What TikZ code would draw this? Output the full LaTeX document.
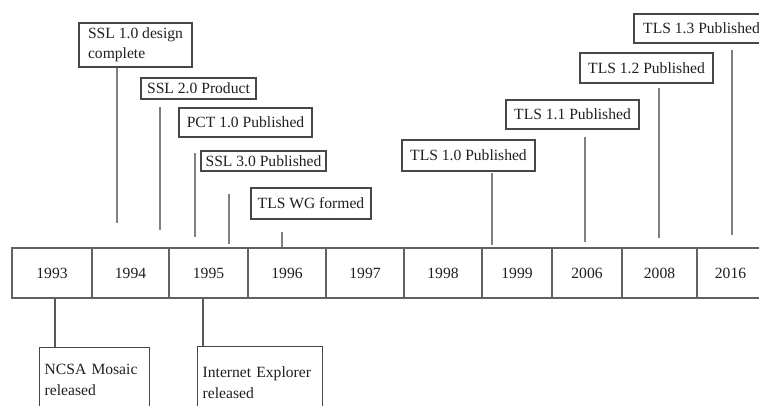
\documentclass[tikz,border=0pt]{standalone}
\usepackage{fontspec}
\setmainfont{Liberation Serif}
\begin{document}
\begin{tikzpicture}[x=0.75pt,y=-0.75pt,
  every node/.style={font=\fontsize{11.7}{15}\selectfont, text=black!88},
  evt/.style={draw=black!72, line width=1.5*0.75pt, inner sep=0pt, align=center},
  yr/.style={draw=black!62, line width=1.4*0.75pt, inner sep=0pt, minimum height=50*0.75pt},
  note/.style={draw=black!72, line width=1.4*0.75pt, anchor=north west, align=left,
    inner xsep=5*0.75pt, font=\fontsize{11.7}{16}\selectfont},
  tick/.style={draw=black!50, line width=1.6*0.75pt},
  downtick/.style={draw=black!65, line width=1.4*0.75pt}]
\useasboundingbox (0,0) rectangle (759,405);

% year row
\foreach \yy/\l/\r in {1993/12/92, 1994/92/169, 1995/169/248, 1996/248/326,
    1997/326/404, 1998/404/482, 1999/482/552, 2006/552/622, 2008/622/697, 2016/697/764}
  \node[yr, minimum width={(\r-\l)*0.75pt}] (y\yy) at ({(\l+\r)/2},273) {\yy};

% events above the row
\node[evt, align=left, minimum width=113*0.75pt, minimum height=44*0.75pt] (ssl1) at (135.5,45)
  {SSL 1.0 design\\complete};
\node[evt, minimum width=115*0.75pt, minimum height=21*0.75pt] (ssl2) at (198.5,88.5) {SSL 2.0 Product};
\node[evt, minimum width=133*0.75pt, minimum height=29*0.75pt] (pct) at (245.5,122.5) {PCT 1.0 Published};
\node[evt, minimum width=125*0.75pt, minimum height=20*0.75pt] (ssl3) at (263.5,161) {SSL 3.0 Published};
\node[evt, minimum width=120*0.75pt, minimum height=31*0.75pt] (tlswg) at (311,203.5) {TLS WG formed};
\node[evt, minimum width=133*0.75pt, minimum height=31*0.75pt] (tls10) at (468.5,155.5) {TLS 1.0 Published};
\node[evt, minimum width=133*0.75pt, minimum height=29*0.75pt] (tls11) at (572.5,114.5) {TLS 1.1 Published};
\node[evt, minimum width=133*0.75pt, minimum height=30*0.75pt] (tls12) at (646.5,68) {TLS 1.2 Published};
\node[evt, minimum width=135*0.75pt, minimum height=29*0.75pt] (tls13) at (701.5,28.5) {TLS 1.3 Published};

% event markers
\coordinate (m1) at (117,223);
\draw[tick] (ssl1.south -| m1) -- (m1);
\coordinate (m2a) at (160,107); \coordinate (m2b) at (160,230);
\draw[tick] (m2a) -- (m2b);
\coordinate (m3a) at (195,153); \coordinate (m3b) at (195,237);
\draw[tick] (m3a) -- (m3b);
\coordinate (m4a) at (229,194); \coordinate (m4b) at (229,244);
\draw[tick] (m4a) -- (m4b);
\coordinate (m5) at (282,232);
\draw[tick] (m5) -- (m5 |- y1996.north);
\coordinate (m6a) at (492,173); \coordinate (m6b) at (492,245);
\draw[tick] (m6a) -- (m6b);
\coordinate (m7a) at (585,137); \coordinate (m7b) at (585,242);
\draw[tick] (m7a) -- (m7b);
\coordinate (m8a) at (659,88); \coordinate (m8b) at (659,238);
\draw[tick] (m8a) -- (m8b);
\coordinate (m9a) at (732,50); \coordinate (m9b) at (732,235);
\draw[tick] (m9a) -- (m9b);

% events below the row
\node[note, text width=100*0.75pt, inner ysep=16*0.75pt] (ncsa) at (39,347)
  {NCSA Mosaic\\released};
\node[note, text width=115*0.75pt, inner ysep=20*0.75pt] (ie) at (197,346)
  {Internet Explorer\\released};
\coordinate (n1) at (55,0);
\draw[downtick] (y1993.south -| n1) -- (ncsa.north -| n1);
\coordinate (n2) at (203,0);
\draw[downtick] (y1995.south -| n2) -- (ie.north -| n2);
\end{tikzpicture}
\end{document}
